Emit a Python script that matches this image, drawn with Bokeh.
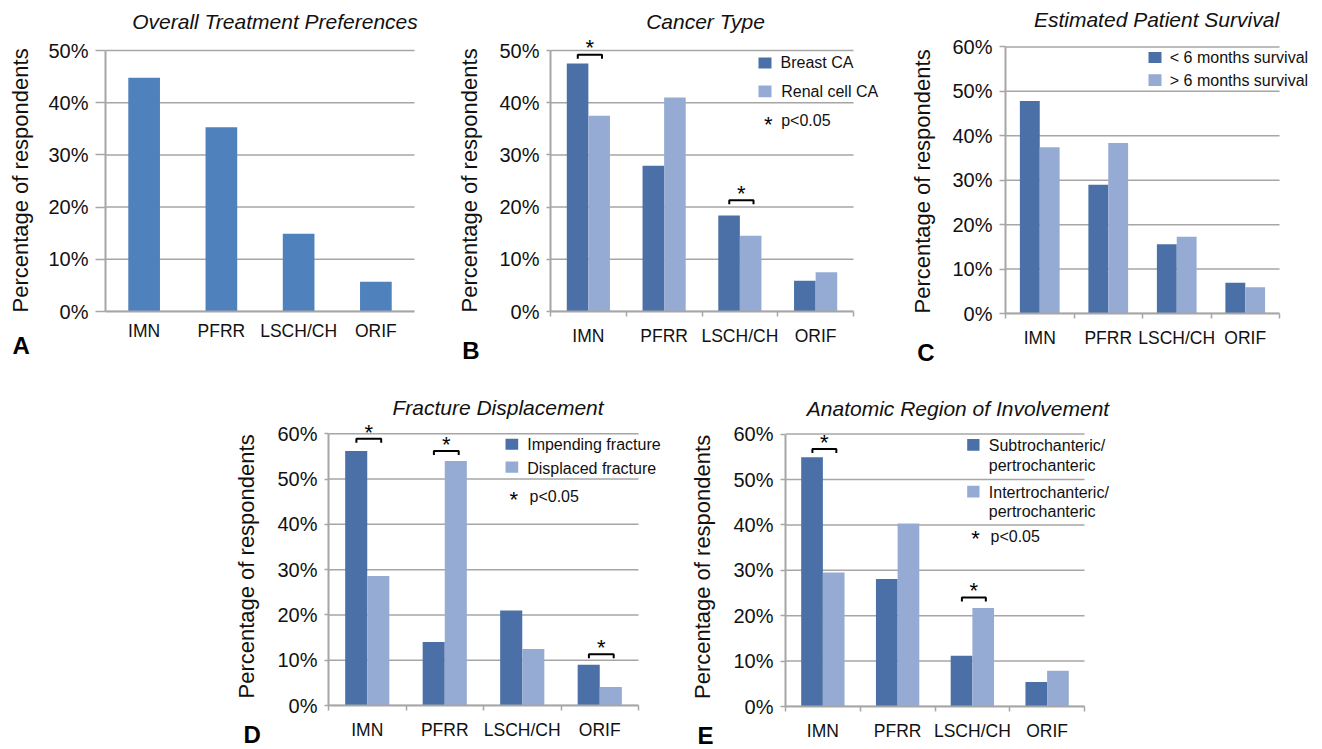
import math
from bokeh.plotting import figure
from bokeh.models import (Range1d, FixedTicker, PrintfTickFormatter, Label, BoxAnnotation,
                          Spacer, Title)
from bokeh.layouts import row, column
from bokeh.embed import file_html
from bokeh.resources import INLINE

# ---------------- data ----------------
categories = ["IMN", "PFRR", "LSCH/CH", "ORIF"]

overall = [44.8, 35.3, 14.9, 5.7]

breast_ca = [47.5, 27.9, 18.4, 5.9]
renal_ca = [37.5, 41.0, 14.5, 7.5]

survival_lt6 = [47.8, 29.0, 15.6, 6.9]
survival_gt6 = [37.4, 38.4, 17.3, 5.9]

impending = [56.2, 14.0, 21.0, 9.0]
displaced = [28.6, 54.0, 12.5, 4.1]

subtroch = [54.9, 28.1, 11.2, 5.4]
intertroch = [29.5, 40.3, 21.7, 7.9]

# significance brackets: (category index, bracket level in %)
sig_b = [(0, 49.2), (2, 21.3)]
sig_d = [(0, 58.9), (1, 56.2), (3, 11.3)]
sig_e = [(0, 56.7), (2, 24.0)]

titles = ["Overall Treatment Preferences", "Cancer Type", "Estimated Patient Survival",
          "Fracture Displacement", "Anatomic Region of Involvement"]
letters = ["A", "B", "C", "D", "E"]
y_label = "Percentage of respondents"

# ---------------- style ----------------
FONT = "Liberation Sans"
GRAY = "#a6a6a6"
TXT = "#111111"
C_SINGLE = "#4f81bd"
C_DARK = "#4a70a7"
C_LIGHT = "#95abd3"
# the axis label is centred on the (taller) frame; trailing no-break spaces
# move the visible words down to the middle of the data area
YLAB_PAD = "\u00a0" * 8


def make_panel(series, colors, ymax, data_w, data_h, frame_w, frame_h, bl, bb,
               bar_w, tick_out, ylab_standoff,
               title, title_x, title_dy, letter, letter_x, letter_standoff,
               legend=None, sig=None, boundary_ticks=True):
    # the frame reaches past the data area (up and right) so that the
    # title, stars and legend texts are not clipped
    x_end = 4.0 * frame_w / data_w
    y_end = ymax * frame_h / data_h
    p = figure(frame_width=frame_w, frame_height=frame_h,
               min_border_left=bl, min_border_right=0, min_border_top=0, min_border_bottom=bb,
               x_range=Range1d(0, x_end), y_range=Range1d(0, y_end),
               output_backend="svg", toolbar_location=None, tools="")
    p.outline_line_color = None
    p.title.visible = False
    p.xgrid.visible = False
    p.ygrid.visible = False

    yticks = list(range(0, ymax + 1, 10))
    # horizontal grid lines over the data area only
    p.segment(x0=[0] * len(yticks), x1=[4] * len(yticks), y0=yticks, y1=yticks,
              line_color=GRAY, line_width=1.5, level="underlay")

    # bars
    n = len(series)
    for k, (vals, col) in enumerate(zip(series, colors)):
        offs = (k - (n - 1) / 2) * bar_w
        xs = [i + 0.5 + offs for i in range(len(categories))]
        p.vbar(x=xs, top=vals, width=bar_w, bottom=0, fill_color=col, line_color=None)

    yax = p.yaxis[0]
    yax.bounds = (0, ymax)
    yax.ticker = FixedTicker(ticks=yticks, minor_ticks=[])
    yax.formatter = PrintfTickFormatter(format="%d%%")
    yax.axis_line_color = GRAY
    yax.axis_line_width = 2
    yax.major_tick_line_color = GRAY
    yax.major_tick_line_width = 1.5
    yax.major_tick_in = 0
    yax.major_tick_out = tick_out
    yax.minor_tick_line_color = None
    yax.major_label_standoff = 7
    yax.major_label_text_font = FONT
    yax.major_label_text_font_size = "20px"
    yax.major_label_text_color = TXT
    yax.axis_label = y_label + YLAB_PAD
    yax.axis_label_standoff = int(ylab_standoff)
    yax.axis_label_text_font = FONT
    yax.axis_label_text_font_style = "normal"
    yax.axis_label_text_font_size = "22px"
    yax.axis_label_text_color = TXT

    xax = p.xaxis[0]
    xax.bounds = (0, 4)
    xax.ticker = FixedTicker(ticks=[0.5, 1.5, 2.5, 3.5],
                             minor_ticks=[0, 1, 2, 3, 4] if boundary_ticks else [])
    xax.major_label_overrides = {i + 0.5: c for i, c in enumerate(categories)}
    xax.axis_line_color = GRAY
    xax.axis_line_width = 2
    xax.major_tick_line_color = None
    xax.major_tick_in = 0
    xax.major_tick_out = 0
    xax.minor_tick_line_color = GRAY
    xax.minor_tick_line_width = 1.5
    xax.minor_tick_in = 0
    xax.minor_tick_out = 5
    xax.major_label_standoff = 9
    xax.major_label_text_font = FONT
    xax.major_label_text_font_size = "17.5px"
    xax.major_label_text_color = TXT

    # panel letter below the category labels
    p.add_layout(Title(text=letter, align="left", offset=letter_x, vertical_align="top",
                       standoff=letter_standoff, text_font=FONT, text_font_style="bold",
                       text_font_size="24px", text_color="#000000"), "below")

    # chart title
    p.add_layout(Label(x=title_x, y=data_h + title_dy, x_units="screen", y_units="screen",
                       text=title, text_align="center", text_baseline="middle",
                       text_font=FONT, text_font_style="italic", text_font_size="21px",
                       text_color=TXT))

    # legend built from annotations
    if legend:
        for item in legend:
            if item[0] == "box":
                _, l, r, b, t, col = item
                p.add_layout(BoxAnnotation(left=l, right=r, bottom=b, top=t,
                                           left_units="screen", right_units="screen",
                                           bottom_units="screen", top_units="screen",
                                           fill_color=col, fill_alpha=1.0, line_color=None))
            elif item[0] == "text":
                _, x, y, txt = item
                p.add_layout(Label(x=x, y=y, x_units="screen", y_units="screen", text=txt,
                                   text_align="left", text_baseline="middle",
                                   text_font=FONT, text_font_size="16px", text_color=TXT))
            elif item[0] == "star":
                _, x, y = item
                p.add_layout(Label(x=x, y=y, x_units="screen", y_units="screen", text="*",
                                   text_align="center", text_baseline="middle",
                                   text_font=FONT, text_font_size="22px", text_color="#000000"))

    # significance brackets
    if sig:
        leg = 4.0 * ymax / data_h
        xs_list, ys_list = [], []
        for idx, lvl in sig:
            x0, x1 = idx + 0.36, idx + 0.68
            xs_list.append([x0, x0, x1, x1])
            ys_list.append([lvl - leg, lvl, lvl, lvl - leg])
            p.add_layout(Label(x=idx + 0.52, y=lvl, y_offset=6.7, text="*",
                               text_align="center", text_baseline="middle",
                               text_font=FONT, text_font_size="22px", text_color="#000000"))
        p.multi_line(xs=xs_list, ys=ys_list, line_color="#000000", line_width=2)
    return p


pA = make_panel([overall], [C_SINGLE], 50, 309, 261, 335, 311, 105, 67, 0.41, 10, 12,
                titles[0], 169.5, 29.3, letters[0], -93, -23, boundary_ticks=False)

pB = make_panel([breast_ca, renal_ca], [C_DARK, C_LIGHT], 50, 303, 261, 330, 311, 110, 67, 0.285, 4, 14,
                titles[1], 155, 29.3, letters[1], -88.3, -23,
                legend=[("box", 208, 221, 243, 254, C_DARK), ("text", 230, 248.8, "Breast CA"),
                        ("box", 208, 221, 214.3, 226, C_LIGHT), ("text", 230.7, 220.2, "Renal cell CA"),
                        ("star", 217.7, 187.5), ("text", 230.7, 191.5, "p<0.05")],
                sig=sig_b)

pC = make_panel([survival_lt6, survival_gt6], [C_DARK, C_LIGHT], 60, 274, 266.6, 309, 313, 125, 65, 0.29, 6, 14,
                titles[2], 151, 27, letters[2], -88.3, -23,
                legend=[("box", 143, 156, 250.6, 261.6, C_DARK), ("text", 164.3, 255.7, "< 6 months survival"),
                        ("box", 143, 156, 227.6, 239.3, C_LIGHT), ("text", 164.3, 233, "> 6 months survival")])

pD = make_panel([impending, displaced], [C_DARK, C_LIGHT], 60, 310, 271.7, 352, 327, 98, 43, 0.285, 4, 15,
                titles[3], 169.5, 26, letters[3], -85, -43,
                legend=[("box", 177, 189.7, 255.7, 266.7, C_DARK), ("text", 198.7, 260.7, "Impending fracture"),
                        ("box", 177, 189.7, 232.7, 244, C_LIGHT), ("text", 198.7, 237.4, "Displaced fracture"),
                        ("star", 185.3, 206), ("text", 201, 209.1, "p<0.05")],
                sig=sig_d)

pE = make_panel([subtroch, intertroch], [C_DARK, C_LIGHT], 60, 299, 272.4, 355, 328, 105, 42, 0.29, 5, 15,
                titles[4], 172.5, 26, letters[4], -88, -43,
                legend=[("box", 181.7, 194, 255.7, 267.4, C_DARK), ("text", 203.3, 261.4, "Subtrochanteric/"),
                        ("text", 203.3, 241.4, "pertrochanteric"),
                        ("box", 181.7, 194, 209, 220.7, C_LIGHT), ("text", 203.3, 214.1, "Intertrochanteric/"),
                        ("text", 203.3, 195.4, "pertrochanteric"),
                        ("star", 190, 167.7), ("text", 205, 169.8, "p<0.05")],
                sig=sig_e)

layout = column(row(pA, pB, pC), row(Spacer(width=230, height=370), pD, pE))

open("out.html", "w").write(file_html(layout, INLINE))
